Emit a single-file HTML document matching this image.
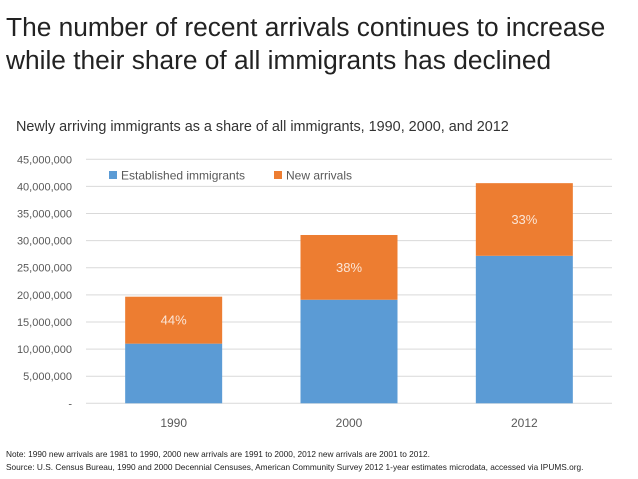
<!DOCTYPE html>
<html><head><meta charset="utf-8"><style>
body{margin:0;width:638px;height:479px;background:#fff;font-family:"Liberation Sans",sans-serif;overflow:hidden;position:relative}
.t{position:absolute;white-space:nowrap}
</style></head><body>
<div class="t" style="left:6px;top:11px;font-size:26.3px;line-height:33px;color:#222">The number of recent arrivals continues to increase<br>while their share of all immigrants has declined</div>
<div class="t" style="left:16px;top:119px;font-size:14.4px;color:#333">Newly arriving immigrants as a share of all immigrants, 1990, 2000, and 2012</div>
<svg id="c" width="638" height="440" style="position:absolute;left:0;top:0"></svg>
<div class="t" style="left:6px;top:449px;font-size:8.3px;color:#222">Note: 1990 new arrivals are 1981 to 1990, 2000 new arrivals are 1991 to 2000, 2012 new arrivals are 2001 to 2012.</div>
<div class="t" style="left:6px;top:462px;font-size:8.3px;color:#222">Source: U.S. Census Bureau, 1990 and 2000 Decennial Censuses, American Community Survey 2012 1-year estimates microdata, accessed via IPUMS.org.</div>
<script>
const categories=["1990","2000","2012"];
const established=[11000000,19100000,27200000];
const newArrivals=[8660000,11940000,13400000];
const shareLabels=["44%","38%","33%"];
const yTicks=[0,5000000,10000000,15000000,20000000,25000000,30000000,35000000,40000000,45000000];
const NS="http://www.w3.org/2000/svg",svg=document.getElementById('c');
const x0=86,x1=612,y0=403.3,y1=159.3,yMax=45000000;
const y=v=>y0-(v/yMax)*(y0-y1);
const band=(x1-x0)/categories.length,bw=97;
const xc=i=>x0+band*(i+0.5);
function mk(t,a){const e=document.createElementNS(NS,t);for(const k in a)e.setAttribute(k,a[k]);svg.appendChild(e);return e;}
yTicks.forEach((v,i)=>{
 const g=mk('line',{x1:x0,x2:x1,y1:y(v),y2:y(v),stroke:'#d9d9d9','stroke-width':1});
 
 
 const t=mk('text',{x:72,y:y(v)+4,'text-anchor':'end','font-size':11,fill:'#595959','font-family':'Liberation Sans'});
 t.textContent=v===0?'-':v.toLocaleString('en-US');
 
 
});
categories.forEach((c,i)=>{
 const bx=xc(i)-bw/2;
 const b=mk('rect',{x:bx,y:y(established[i]),width:bw,height:y0-y(established[i]),fill:'#5b9bd5'});
 
 
 const tot=established[i]+newArrivals[i];
 const o=mk('rect',{x:bx,y:y(tot),width:bw,height:y(established[i])-y(tot),fill:'#ed7d31'});
 
 
 const p=mk('text',{x:xc(i),y:(y(tot)+y(established[i]))/2+4.5,'text-anchor':'middle','font-size':13,fill:'#fbe5d6','font-family':'Liberation Sans'});
 p.textContent=shareLabels[i];
 
 
 const l=mk('text',{x:xc(i),y:427,'text-anchor':'middle','font-size':12,fill:'#595959','font-family':'Liberation Sans'});
 l.textContent=c;
 
 
});
const lg=[["Established immigrants","#5b9bd5",109],["New arrivals","#ed7d31",274]];
lg.forEach(e=>{
 const r=mk('rect',{x:e[2],y:171,width:8,height:8,fill:e[1]});
 
 
 const t=mk('text',{x:e[2]+12,y:179.5,'font-size':12,fill:'#595959','font-family':'Liberation Sans'});
 t.textContent=e[0];
 
 
});
</script>
</body></html>
